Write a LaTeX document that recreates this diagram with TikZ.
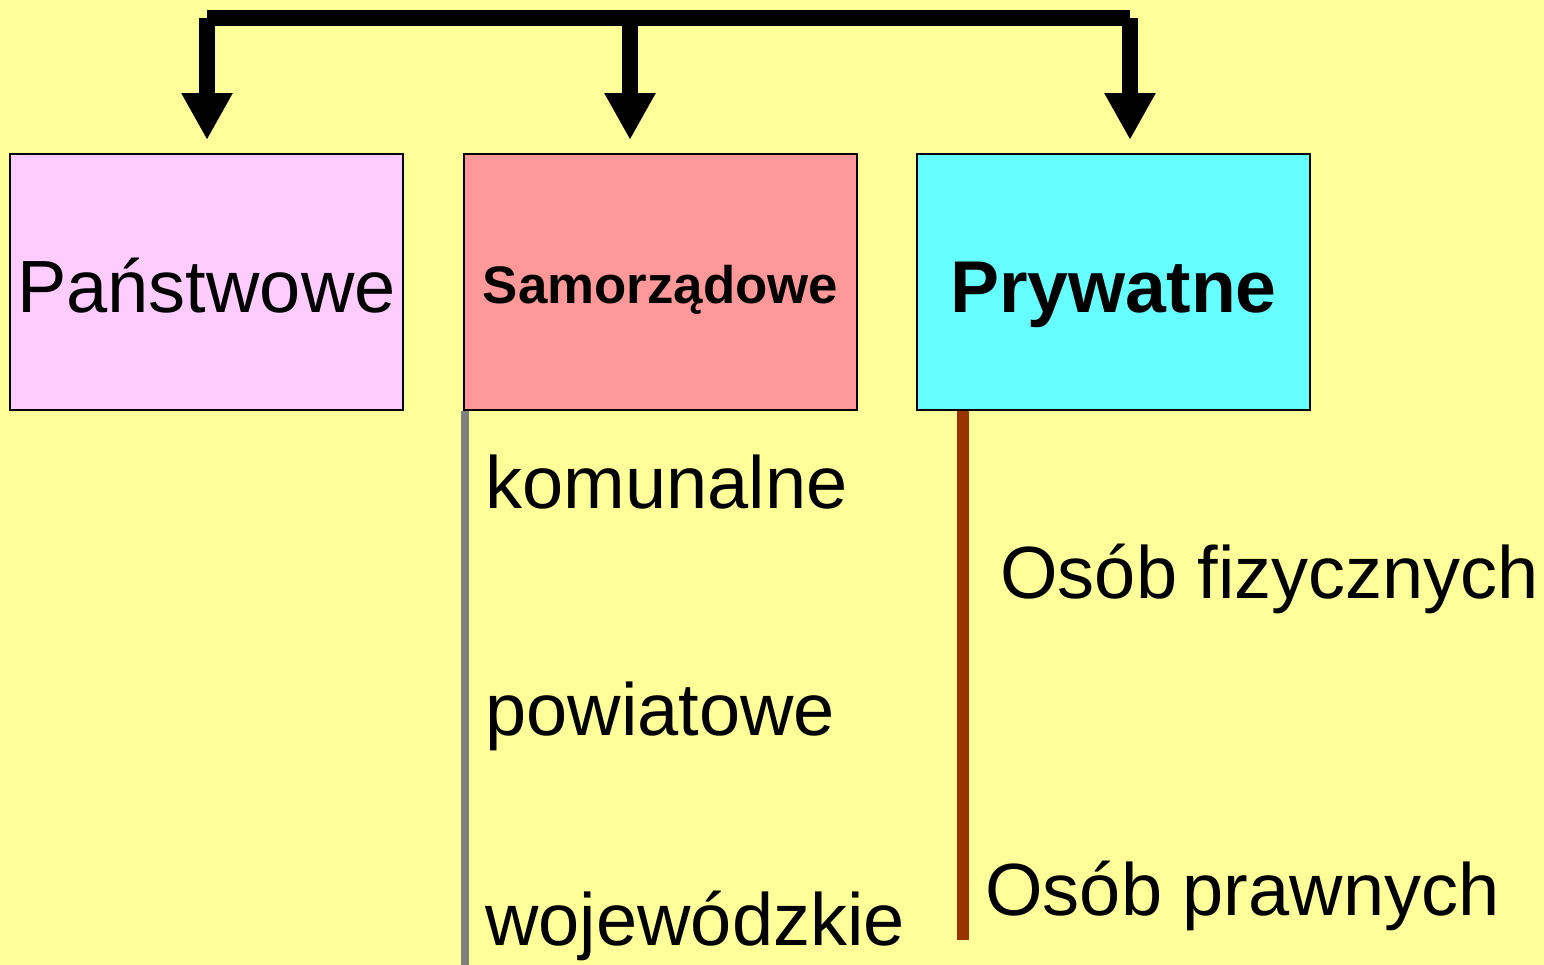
\documentclass[tikz,border=0pt]{standalone}
\usepackage{fontspec}
\setmainfont{Liberation Sans}
\usetikzlibrary{arrows.meta}
\definecolor{bg}{HTML}{FFFF99}
\definecolor{pinkbox}{HTML}{FFCCFF}
\definecolor{redbox}{HTML}{FF9999}
\definecolor{cyanbox}{HTML}{66FFFF}
\definecolor{rule}{HTML}{808080}
\definecolor{brown}{HTML}{993300}
\tikzset{
  catbox/.style={draw=black, line width=1pt, minimum width=196.5pt, minimum height=128pt, inner sep=0pt},
  shaft/.style={line width=8pt, line cap=butt},
  bigarrow/.style={line width=8pt, line cap=butt, -{Triangle[width=24pt,length=23.5pt]}},
  label/.style={anchor=base west, inner sep=0pt, font=\fontsize{37}{44}\selectfont},
}
% text whose baseline sits the given distance below the box centre
\newcommand{\boxtext}[2]{\raisebox{-#1}[0pt][0pt]{#2}}
\begin{document}
\begin{tikzpicture}[x=0.5pt, y=-0.5pt]
  \fill[bg] (0,0) rectangle (1544,965);
  \useasboundingbox (0,0) rectangle (1544,965);

  % three categories
  \node[catbox, fill=pinkbox] (p) at (206.5,282) {\fontsize{37}{44}\selectfont\boxtext{15pt}{Państwowe}};
  \node[catbox, fill=redbox] (s) at (660.5,282) {\fontsize{26.4}{32}\selectfont\bfseries\boxtext{10.5pt}{Samorządowe}};
  \node[catbox, fill=cyanbox] (r) at (1113.5,282) {\fontsize{36.7}{44}\selectfont\bfseries\boxtext{15pt}{Prywatne}};

  % distribution bar with arrows
  \coordinate (a1) at (207,18);
  \coordinate (a2) at (630,18);
  \coordinate (a3) at (1130,18);
  \draw[shaft] (a1) -- (a3);
  \draw[bigarrow] (a1) -- ([yshift=6.5pt]a1 |- p.north);
  \draw[bigarrow] (a2) -- ([yshift=6.5pt]a2 |- s.north);
  \draw[bigarrow] (a3) -- ([yshift=6.5pt]a3 |- r.north);

  % sub-lists
  \coordinate (sbot) at (464,965);
  \coordinate (rbot) at (963,940);
  \draw[rule, line width=3.6pt] ([xshift=1pt]s.south west) -- ([xshift=1pt]s.south west |- sbot);
  \draw[brown, line width=6pt] (rbot |- r.south) -- (rbot);

  \node[label] (k1) at (485,508) {komunalne};
  \node[label] (k2) at (485,735) {powiatowe};
  \node[label] (k3) at (485,945) {wojewódzkie};
  \node[label] (o1) at (1000,598) {Osób fizycznych};
  \node[label] (o2) at (985,915) {Osób prawnych};
\end{tikzpicture}
\end{document}
